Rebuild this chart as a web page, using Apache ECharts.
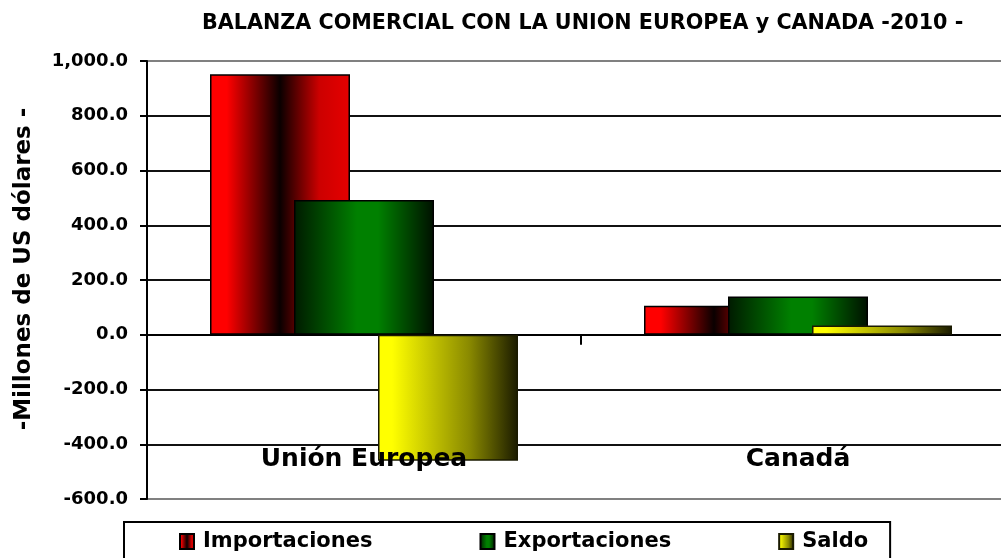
<!DOCTYPE html>
<html>
<head>
<meta charset="utf-8">
<script src="https://cdn.jsdelivr.net/npm/echarts@6/dist/echarts.min.js"></script>
<style>
  html, body { margin: 0; padding: 0; background: #fff; }
  #chart { width: 1001px; height: 558px; }
</style>
</head>
<body>
<div id="chart"></div>
<script>
// datos (millones de US dolares)
var categorias = ['Unión Europea', 'Canadá'];
var importaciones = [952, 106];
var exportaciones = [492, 140];
var saldo = [-460, 34];
var ejeY = { min: -600, max: 1000, paso: 200 };

var fuente = 'DejaVu Sans';

function degradado(stops) {
    return new echarts.graphic.LinearGradient(0, 0, 1, 0, stops);
}

var rojo = degradado([
    { offset: 0, color: '#ff0000' },
    { offset: 0.12, color: '#ff0000' },
    { offset: 0.5, color: '#0a0000' },
    { offset: 0.78, color: '#cc0000' },
    { offset: 1, color: '#e60000' }
]);
var verde = degradado([
    { offset: 0, color: '#001a00' },
    { offset: 0.45, color: '#008000' },
    { offset: 0.6, color: '#008000' },
    { offset: 1, color: '#001000' }
]);
var amarillo = degradado([
    { offset: 0, color: '#ffff00' },
    { offset: 0.1, color: '#ffff00' },
    { offset: 0.65, color: '#8a8a00' },
    { offset: 1, color: '#1a1a00' }
]);

var chart = echarts.init(document.getElementById('chart'));

var option = {
    backgroundColor: '#fff',
    animation: false,
    title: {
        text: 'BALANZA COMERCIAL CON LA UNION EUROPEA y CANADA -2010 -',
        left: 202,
        top: 13,
        padding: 0,
        textStyle: { fontFamily: fuente, fontWeight: 'bold', fontSize: 20.7, color: '#000' }
    },
    legend: {
        data: ['Importaciones', 'Exportaciones', 'Saldo'],
        left: 124,
        top: 522,
        padding: [9, 22, 9, 55],
        itemGap: 107,
        itemWidth: 14,
        itemHeight: 15,
        icon: 'rect',
        borderColor: '#000',
        borderWidth: 2,
        textStyle: { fontFamily: fuente, fontWeight: 'bold', fontSize: 21, color: '#000', padding: [0, 0, 0, 4] }
    },
    grid: { left: 147, right: -14, top: 61, bottom: 59, containLabel: false, outerBoundsMode: 'none' },
    xAxis: [{
        type: 'category',
        data: categorias,
        axisLine: { onZero: true, lineStyle: { color: '#000', width: 2 } },
        axisTick: { show: true, length: 10, lineStyle: { color: '#000', width: 2 } },
        axisLabel: { show: false },
        splitLine: { show: false }
    }, {
        type: 'category',
        data: categorias,
        position: 'bottom',
        z: 10,
        axisLine: { show: false },
        axisTick: { show: false },
        axisLabel: {
            margin: -40,
            verticalAlign: 'middle',
            fontFamily: fuente, fontWeight: 'bold', fontSize: 25, color: '#000'
        }
    }],
    yAxis: {
        type: 'value',
        min: ejeY.min,
        max: ejeY.max,
        interval: ejeY.paso,
        name: '-Millones de US dólares -',
        nameLocation: 'middle',
        nameGap: 111,
        nameTextStyle: { fontFamily: fuente, fontWeight: 'bold', fontSize: 23, color: '#000', padding: [0, 0, 0, 22] },
        axisLine: { show: true, lineStyle: { color: '#000', width: 2 } },
        axisTick: { show: true, inside: false, length: 7, lineStyle: { color: '#000', width: 2 } },
        axisLabel: {
            margin: 19,
            fontFamily: fuente, fontWeight: 'bold', fontSize: 18, color: '#000',
            formatter: function (v) {
                var s = Math.abs(v).toFixed(1).replace(/\B(?=(\d{3})+(?!\d))/g, ',');
                return (v < 0 ? '-' : '') + s;
            }
        },
        splitLine: {
            show: true,
            lineStyle: {
                color: ['#808080', '#111', '#111', '#111', '#111', '#111', '#111', '#111', '#808080'],
                width: 2
            }
        }
    },
    series: [{
        name: 'Importaciones',
        type: 'bar',
        data: importaciones,
        barWidth: 140,
        barGap: '-40%',
        itemStyle: { color: rojo, borderColor: '#000', borderWidth: 1.5 }
    }, {
        name: 'Exportaciones',
        type: 'bar',
        data: exportaciones,
        barWidth: 140,
        barGap: '-40%',
        itemStyle: { color: verde, borderColor: '#000', borderWidth: 1.5 }
    }, {
        name: 'Saldo',
        type: 'bar',
        data: saldo,
        barWidth: 140,
        barGap: '-40%',
        itemStyle: { color: amarillo, borderColor: '#1a1a00', borderWidth: 1.5 }
    }]
};

chart.setOption(option);
</script>
</body>
</html>
